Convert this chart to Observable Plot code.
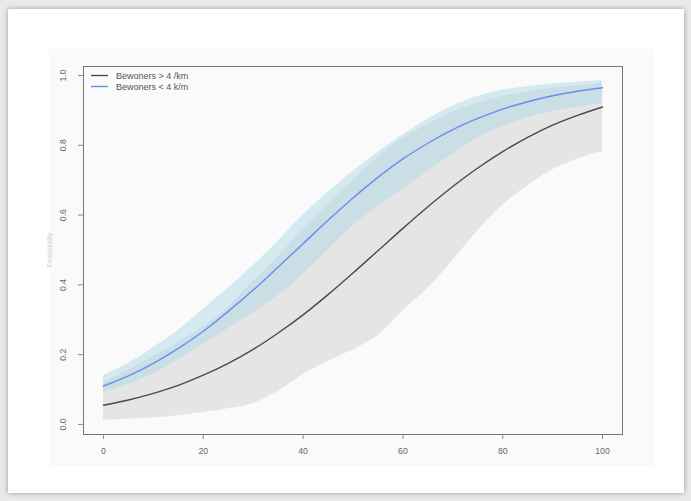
<!DOCTYPE html>
<html><head><meta charset="utf-8">
<script src="https://cdn.jsdelivr.net/npm/d3@7"></script>
<script src="https://cdn.jsdelivr.net/npm/@observablehq/plot@0.6"></script>
<style>
html,body{margin:0;padding:0;width:691px;height:501px;overflow:hidden;background:#e8e9eb;}
#frame{position:absolute;left:8px;top:9px;width:676px;height:484px;background:#fff;box-shadow:0 0 5px rgba(0,0,0,0.35);}
#panel{position:absolute;left:49px;top:49px;width:605px;height:417px;background:#fafafa;}
#chart{position:absolute;left:30px;top:49px;}
#legend{position:absolute;left:91px;top:70px;font:9px "Liberation Sans",Arial,sans-serif;color:#555;}
#legend .row{display:flex;align-items:center;height:11px;white-space:nowrap;}
#legend svg{width:17px;height:11px;margin-right:8px;}
#ylab{position:absolute;left:49px;top:250px;transform:translate(-50%,-50%) rotate(-90deg);font:7.5px "Liberation Sans",Arial,sans-serif;color:#d0d0d0;white-space:nowrap;}
</style></head>
<body>
<div id="frame"></div>
<div id="panel"></div>
<div id="chart"></div>
<div id="ylab">Probability</div>
<div id="legend"></div>
<script>
const xVals = [0,5,10,15,20,25,30,35,40,45,50,55,60,65,70,75,80,85,90,95,100];
// Bewoners > 4 /km (black line, grey band)
const meanHigh  = [0.055,0.070,0.089,0.112,0.141,0.175,0.215,0.262,0.314,0.372,0.434,0.498,0.562,0.624,0.682,0.735,0.782,0.823,0.858,0.886,0.910];
const lowerHigh = [0.012,0.015,0.019,0.025,0.034,0.045,0.060,0.095,0.143,0.180,0.214,0.255,0.325,0.390,0.470,0.555,0.628,0.684,0.730,0.760,0.782];
const upperHigh = [0.120,0.155,0.195,0.235,0.280,0.335,0.410,0.480,0.560,0.630,0.700,0.765,0.820,0.860,0.895,0.920,0.940,0.953,0.964,0.971,0.977];
// Bewoners < 4 k/m (blue line, light blue band)
const meanLow   = [0.110,0.139,0.175,0.218,0.267,0.324,0.385,0.451,0.518,0.585,0.649,0.708,0.761,0.806,0.845,0.877,0.904,0.925,0.942,0.955,0.965];
const lowerLow  = [0.092,0.115,0.145,0.185,0.230,0.275,0.320,0.370,0.430,0.500,0.570,0.625,0.675,0.725,0.775,0.820,0.855,0.880,0.898,0.910,0.920];
const upperLow  = [0.140,0.175,0.220,0.270,0.330,0.390,0.455,0.525,0.600,0.665,0.725,0.780,0.830,0.875,0.912,0.940,0.958,0.968,0.976,0.981,0.986];

const seriesNames = ["Bewoners > 4 /km", "Bewoners < 4 k/m"];
const lineColors = ["#4a4a4a", "#6b8cef"];
const xTicks = [0,20,40,60,80,100];
const yTicks = [0,0.2,0.4,0.6,0.8,1.0];

const high = xVals.map((x,i)=>({x, m:meanHigh[i], lo:lowerHigh[i], hi:upperHigh[i]}));
const low  = xVals.map((x,i)=>({x, m:meanLow[i],  lo:lowerLow[i],  hi:upperLow[i]}));

const chart = Plot.plot({
  width: 624, height: 417,
  marginLeft: 53, marginRight: 32, marginTop: 17, marginBottom: 32,
  style: {background: "transparent", fontSize: "8.7px", fontFamily: "'Liberation Sans', Arial, sans-serif", color: "#666"},
  x: {domain: [-4, 104]},
  y: {domain: [-0.029, 1.026]},
  marks: [
    Plot.areaY(high, {x: "x", y1: "lo", y2: "hi", fill: "#e5e5e5", curve: "monotone-x"}),
    Plot.areaY(low,  {x: "x", y1: "lo", y2: "hi", fill: "#add8e6", fillOpacity: 0.5, curve: "monotone-x"}),
    Plot.line(high, {x: "x", y: "m", stroke: lineColors[0], strokeWidth: 1.4, curve: "monotone-x"}),
    Plot.line(low,  {x: "x", y: "m", stroke: lineColors[1], strokeWidth: 1.4, curve: "monotone-x"}),
    Plot.frame({stroke: "#777"}),
    Plot.axisX({ticks: xTicks, tickSize: 5, tickPadding: 8, label: null, stroke: "#888"}),
    Plot.axisY({ticks: yTicks, tickSize: 5, tickRotate: -90, tickPadding: 13, label: null, tickFormat: d3.format(".1f"), stroke: "#888"})
  ]
});
document.getElementById("chart").appendChild(chart);

const leg = document.getElementById("legend");
seriesNames.forEach((name, i) => {
  const row = document.createElement("div");
  row.className = "row";
  row.innerHTML = `<svg viewBox="0 0 17 11"><line x1="0" x2="17" y1="5.5" y2="5.5" stroke="${lineColors[i]}" stroke-width="1.4"/></svg><span>${name.replace(/</g,"&lt;").replace(/>/g,"&gt;")}</span>`;
  leg.appendChild(row);
});
</script>
</body></html>
